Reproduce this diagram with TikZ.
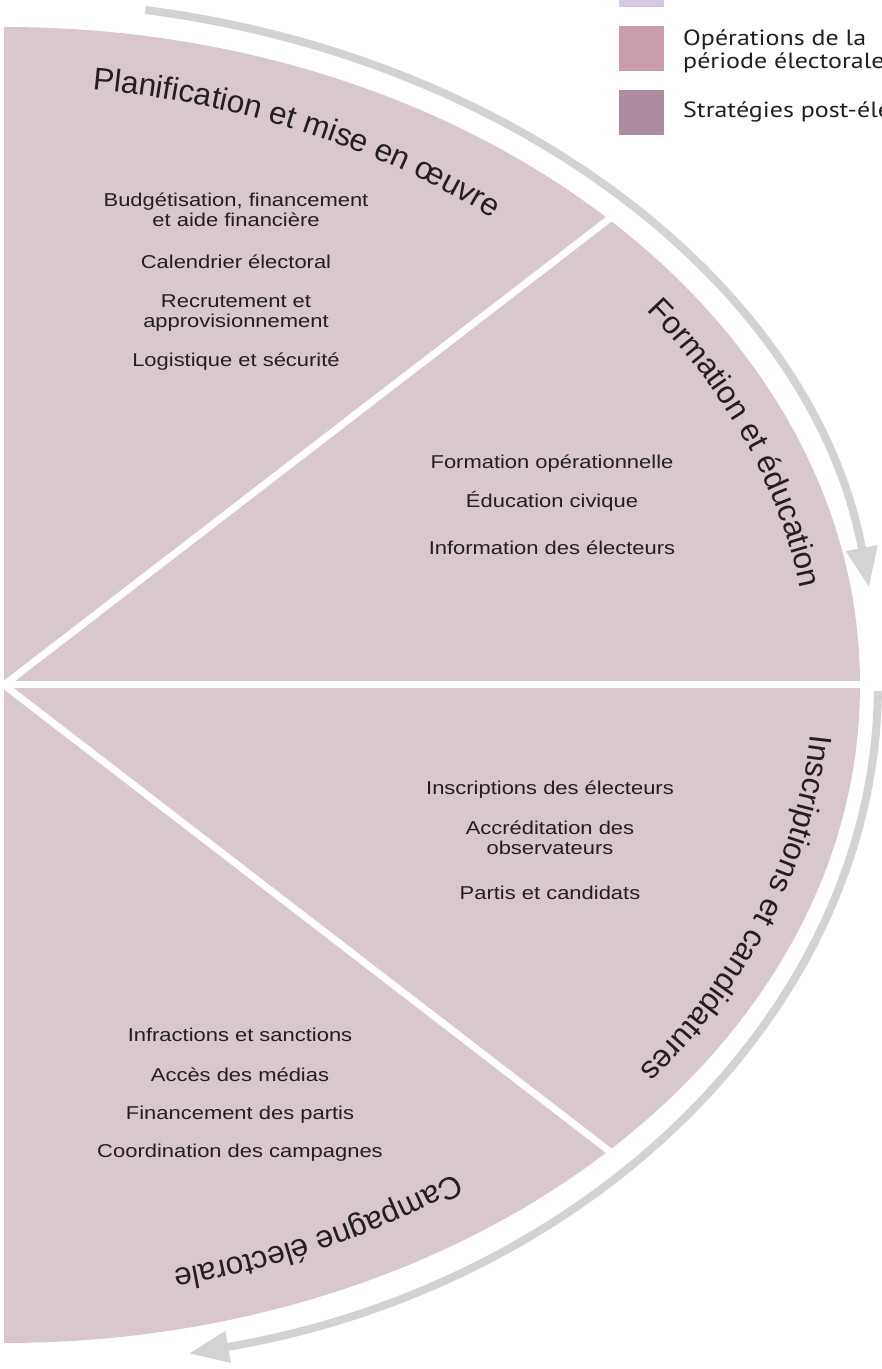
\documentclass[tikz,border=0pt]{standalone}
\usepackage{fontspec}
\setmainfont{Liberation Sans}
\newfontfamily\itemfont[FakeStretch=1.18]{Liberation Sans}
\newfontfamily\legendfont[FakeStretch=1.18]{PT Sans}
\usetikzlibrary{arrows.meta}
\usetikzlibrary{decorations.text}
\usetikzlibrary{positioning}
\definecolor{wedgepink}{RGB}{216,199,203}
\definecolor{arrowgray}{RGB}{209,211,212}
\definecolor{textdark}{RGB}{35,31,32}
\definecolor{legendlilac}{RGB}{214,201,223}
\definecolor{legendrose}{RGB}{203,156,169}
\definecolor{legendmauve}{RGB}{173,139,160}
\begin{document}
\begin{tikzpicture}[x=1pt,y=1pt,
  item/.style={align=center,font=\itemfont\fontsize{18.6}{20.5}\selectfont,text=textdark,inner sep=0pt,anchor=base},
  legendbox/.style={minimum size=45pt,inner sep=0pt,anchor=north west},
  legendtext/.style={align=left,font=\legendfont\fontsize{22}{23}\selectfont,text=textdark,inner sep=0pt,anchor=base west},
  cyclearrow/.style={arrowgray,line width=8pt,-{Triangle[length=40pt,width=30pt]}},
  titlepath/.style={decorate,decoration={text along path,text align=center,text color=textdark,
    text={|\fontsize{31.5}{32}\selectfont|#1}}}]
\useasboundingbox (0,0) rectangle (882,1369);
\clip (0,0) rectangle (882,1369);
\coordinate (c) at (4,684);
% Halbkreis mit vier Sektoren
\fill[wedgepink] (c) -- ++(0,658) arc[start angle=90,end angle=-90,x radius=856,y radius=658] -- cycle;
\foreach \a in {45,0,-45}
  \draw[white,line width=7pt] (c) -- ++(\a:870 and 670);
% Pfeile
\draw[cyclearrow] ([shift={(80.7:874 and 684)}]c) arc[start angle=80.7,end angle=8.2,x radius=874,y radius=684];
\draw[cyclearrow] ([shift={(-0.5:874 and 684)}]c) arc[start angle=-0.5,end angle=-77.8,x radius=874,y radius=684];
% Titel
\path[titlepath={Planification et mise en œuvre}] ([shift={(90:779 and 599)}]c) arc[start angle=90,end angle=44,x radius=779,y radius=599];
\path[titlepath={Formation et éducation}] ([shift={(45:806 and 620)}]c) arc[start angle=45,end angle=0,x radius=806,y radius=620];
\path[titlepath={Inscriptions et candidatures}] ([shift={(2:809 and 622)}]c) arc[start angle=2,end angle=-44,x radius=809,y radius=622];
\path[titlepath={Campagne électorale}] ([shift={(-43:779 and 599)}]c) arc[start angle=-43,end angle=-88,x radius=779,y radius=599];
% Planification
\node[item] (budget) at (236,1142) {Budgétisation, financement\\et aide financière};
\node[item] (calendrier) at (236,1100) {Calendrier électoral};
\node[item] (recrutement) at (236,1041) {Recrutement et\\approvisionnement};
\node[item] (logistique) at (236,1002) {Logistique et sécurité};
% Formation
\node[item] (formation) at (552,900) {Formation opérationnelle};
\node[item] (civique) at (552,861) {Éducation civique};
\node[item] (information) at (552,814) {Information des électeurs};
% Inscriptions
\node[item] (inscriptions) at (550,574) {Inscriptions des électeurs};
\node[item] (accreditation) at (550,514) {Accréditation des\\observateurs};
\node[item] (partis) at (550,469) {Partis et candidats};
% Campagne
\node[item] (infractions) at (240,327) {Infractions et sanctions};
\node[item] (medias) at (240,287) {Accès des médias};
\node[item] (financement) at (240,249) {Financement des partis};
\node[item] (coordination) at (240,211) {Coordination des campagnes};
% Legende
\node[legendbox,fill=legendlilac] (leg1) at (619,1407) {};
\node[legendbox,fill=legendrose] (leg2) at (619,1343) {};
\node[legendbox,fill=legendmauve] (leg3) at (619,1279) {};
\node[legendtext] (legtext2) at (683,1300) {Opérations de la\\période électorale};
\node[legendtext] (legtext3) at (683,1251) {Stratégies post-électorales};
\end{tikzpicture}
\end{document}
